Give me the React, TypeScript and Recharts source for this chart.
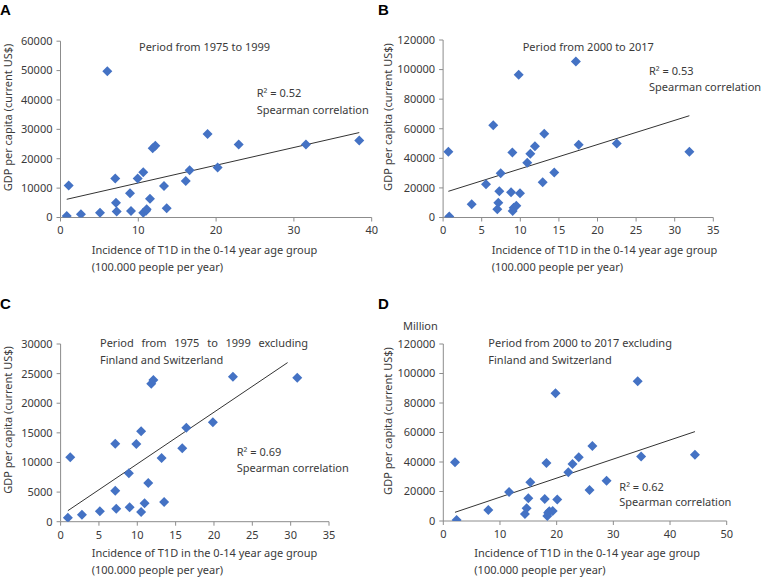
import React from 'react';
import { ScatterChart, Scatter, XAxis, YAxis, ReferenceLine } from 'recharts';

// ---------- Data ----------
// Panel A: 1975-1999
const aX = [0.8, 1.05, 2.63, 5.08, 6.02, 7.04, 7.13, 7.22, 8.93, 9.06, 9.92, 10.64, 10.64, 11.0, 11.08, 11.5, 11.85, 12.19, 13.3, 13.65, 16.1, 16.6, 18.9, 20.2, 22.9, 31.55, 38.4];
const aY = [500, 10850, 1100, 1650, 49800, 13250, 5050, 2000, 8250, 2200, 13250, 15400, 1640, 2300, 2800, 6400, 23600, 24400, 10750, 3150, 12450, 16100, 28400, 17000, 24850, 24850, 26200];
const aTrendX = [0.8, 38.4];
const aTrendY = [6200, 28900];
const aXTicks = [0, 10, 20, 30, 40];
const aYTicks = [0, 10000, 20000, 30000, 40000, 50000, 60000];

// Panel B: 2000-2017
const bX = [0.68, 0.8, 3.7, 5.56, 6.5, 7.02, 7.15, 7.28, 7.46, 8.8, 8.97, 9.01, 9.14, 9.48, 9.79, 9.96, 10.9, 11.3, 11.9, 12.9, 13.1, 14.4, 17.2, 17.56, 22.49, 31.9];
const bY = [44500, 600, 8900, 22400, 62300, 5500, 10000, 17700, 29900, 17000, 44000, 4400, 6600, 8000, 96500, 16350, 37000, 43100, 48100, 23800, 56600, 30500, 105500, 49200, 50100, 44500];
const bTrendX = [0.68, 31.9];
const bTrendY = [17700, 68800];
const bXTicks = [0, 5, 10, 15, 20, 25, 30, 35];
const bYTicks = [0, 20000, 40000, 60000, 80000, 100000, 120000];

// Panel C: 1975-1999 excluding Finland and Switzerland
const cX = [0.95, 1.26, 2.78, 5.12, 7.13, 7.13, 7.26, 8.9, 9.0, 9.87, 10.5, 10.5, 10.95, 11.43, 11.82, 12.1, 13.17, 13.5, 15.86, 16.39, 19.86, 22.47, 30.86];
const cY = [680, 10880, 1180, 1750, 13180, 5240, 2200, 8170, 2430, 13120, 15270, 1640, 3100, 6540, 23310, 23930, 10760, 3330, 12400, 15880, 16790, 24490, 24320];
const cTrendX = [0.95, 29.6];
const cTrendY = [1860, 26860];
const cXTicks = [0, 5, 10, 15, 20, 25, 30, 35];
const cYTicks = [0, 5000, 10000, 15000, 20000, 25000, 30000];

// Panel D: 2000-2017 excluding Finland and Switzerland
const dX = [2.06, 2.35, 7.94, 11.6, 14.4, 14.7, 15.0, 15.35, 17.9, 18.2, 18.35, 18.5, 18.7, 19.3, 19.8, 20.1, 22.06, 22.8, 23.9, 25.8, 26.3, 28.8, 34.3, 34.9, 44.4];
const dY = [39800, 700, 7460, 19700, 4750, 8600, 15400, 26200, 14900, 39300, 3400, 5650, 6550, 6800, 86600, 14500, 33000, 38600, 43200, 21000, 50900, 27300, 94700, 43800, 45000];
const dTrendX = [2.06, 44.4];
const dTrendY = [5900, 60600];
const dXTicks = [0, 10, 20, 30, 40, 50];
const dYTicks = [0, 20000, 40000, 60000, 80000, 100000, 120000];

// ---------- Styles ----------
const FONT = '"Noto Sans", sans-serif';
const TXT = '#3a3a3a';
const AXIS = '#8c8c8c';
const BLUE = '#4472C4';

const Diamond = (props: any) => {
  const { cx, cy } = props;
  if (cx == null || cy == null) return null;
  const r = 5;
  return (
    <polygon
      points={`${cx},${cy - r} ${cx + r},${cy} ${cx},${cy + r} ${cx - r},${cy}`}
      fill={BLUE}
    />
  );
};

type PanelProps = {
  left: number; top: number; width: number; height: number;
  plot: { x0: number; x1: number; y0: number; y1: number };
  xs: number[]; ys: number[]; tx: number[]; ty: number[];
  xTicks: number[]; yTicks: number[];
};

function Panel({ left, top, width, height, plot, xs, ys, tx, ty, xTicks, yTicks }: PanelProps) {
  const data = xs.map((x, i) => ({ x, y: ys[i] }));
  const margin = { top: plot.y0 - top, right: left + width - plot.x1, left: 0, bottom: 0 };
  const tickStyle = { fill: TXT, fontSize: 11, fontFamily: FONT };
  const xDomain = [xTicks[0], xTicks[xTicks.length - 1]];
  const yDomain = [yTicks[0], yTicks[yTicks.length - 1]];
  return (
    <div style={{ position: 'absolute', left, top, width, height }}>
      <ScatterChart width={width} height={height} margin={margin}>
        <XAxis
          type="number" dataKey="x" domain={xDomain} ticks={xTicks} interval={0}
          height={top + height - plot.y1} tickSize={4} tickMargin={5}
          stroke={AXIS} tick={tickStyle} allowDataOverflow
        />
        <YAxis
          type="number" dataKey="y" domain={yDomain} ticks={yTicks} interval={0}
          width={plot.x0 - left} tickSize={4} tickMargin={4}
          stroke={AXIS} tick={tickStyle} allowDataOverflow
        />
        <ReferenceLine
          segment={[{ x: tx[0], y: ty[0] }, { x: tx[1], y: ty[1] }]}
          stroke="#333333" strokeWidth={1} ifOverflow="visible"
        />
        <Scatter data={data} shape={Diamond} isAnimationActive={false} />
      </ScatterChart>
    </div>
  );
}

const T = (p: { x: number; y: number; children: React.ReactNode; ws?: number }) => (
  <text x={p.x} y={p.y} fontFamily={FONT} fontSize={11} fill={TXT} style={p.ws ? { wordSpacing: p.ws } : undefined}>
    {p.children}
  </text>
);

const YT = (p: { x: number; y: number }) => (
  <text x={p.x} y={p.y} fontFamily={FONT} fontSize={11} fill={TXT} textAnchor="middle"
    transform={`rotate(-90 ${p.x} ${p.y})`}>
    GDP per capita (current US$)
  </text>
);

const L = (p: { x: number; y: number; c: string }) => (
  <text x={p.x} y={p.y} fontFamily='"Liberation Sans", Arial, sans-serif' fontSize={15} fontWeight="bold" fill="#000">
    {p.c}
  </text>
);

export default function App() {
  return (
    <div style={{ position: 'absolute', left: 0, top: 0, width: 778, height: 583, background: '#fff', overflow: 'hidden' }}>
      <Panel left={0} top={0} width={390} height={290}
        plot={{ x0: 60.5, x1: 371.7, y0: 41.2, y1: 217.5 }}
        xs={aX} ys={aY} tx={aTrendX} ty={aTrendY} xTicks={aXTicks} yTicks={aYTicks} />
      <Panel left={390} top={0} width={388} height={290}
        plot={{ x0: 443.1, x1: 713.3, y0: 40, y1: 217.5 }}
        xs={bX} ys={bY} tx={bTrendX} ty={bTrendY} xTicks={bXTicks} yTicks={bYTicks} />
      <Panel left={0} top={290} width={390} height={293}
        plot={{ x0: 60.6, x1: 329, y0: 344, y1: 521.7 }}
        xs={cX} ys={cY} tx={cTrendX} ty={cTrendY} xTicks={cXTicks} yTicks={cYTicks} />
      <Panel left={390} top={290} width={388} height={293}
        plot={{ x0: 443.3, x1: 726.7, y0: 344, y1: 521 }}
        xs={dX} ys={dY} tx={dTrendX} ty={dTrendY} xTicks={dXTicks} yTicks={dYTicks} />

      <svg width={778} height={583} style={{ position: 'absolute', left: 0, top: 0, pointerEvents: 'none' }}>
        <L x={0} y={15} c="A" />
        <L x={378} y={15} c="B" />
        <L x={0} y={309} c="C" />
        <L x={378} y={309} c="D" />

        {/* Panel A */}
        <T x={139} y={50.7}>Period from 1975 to 1999</T>
        <T x={256.7} y={96.7}>R² = 0.52</T>
        <T x={256.7} y={114}>Spearman correlation</T>
        <T x={91.7} y={254}>Incidence of T1D in the 0-14 year age group</T>
        <T x={91.7} y={270.7}>(100.000 people per year)</T>
        <YT x={12} y={117.5} />

        {/* Panel B */}
        <T x={522.7} y={50.7}>Period from 2000 to 2017</T>
        <T x={649} y={74.7}>R² = 0.53</T>
        <T x={649} y={90.7}>Spearman correlation</T>
        <T x={491.7} y={254}>Incidence of T1D in the 0-14 year age group</T>
        <T x={491.7} y={270.7}>(100.000 people per year)</T>
        <YT x={392} y={117} />

        {/* Panel C */}
        <T x={100} y={347.3} ws={4.9}>Period from 1975 to 1999 excluding</T>
        <T x={100} y={364}>Finland and Switzerland</T>
        <T x={236.7} y={456.3}>R² = 0.69</T>
        <T x={236.7} y={472.3}>Spearman correlation</T>
        <T x={91.7} y={557.3}>Incidence of T1D in the 0-14 year age group</T>
        <T x={91.7} y={574}>(100.000 people per year)</T>
        <YT x={12} y={420} />

        {/* Panel D */}
        <T x={403} y={330}>Million</T>
        <T x={488.3} y={347.3}>Period from 2000 to 2017 excluding</T>
        <T x={488.3} y={364}>Finland and Switzerland</T>
        <T x={619.3} y={490.7}>R² = 0.62</T>
        <T x={619.3} y={506.3}>Spearman correlation</T>
        <T x={474.3} y={557.3}>Incidence of T1D in the 0-14 year age group</T>
        <T x={474.3} y={574}>(100.000 people per year)</T>
        <YT x={392} y={421} />
      </svg>
    </div>
  );
}
